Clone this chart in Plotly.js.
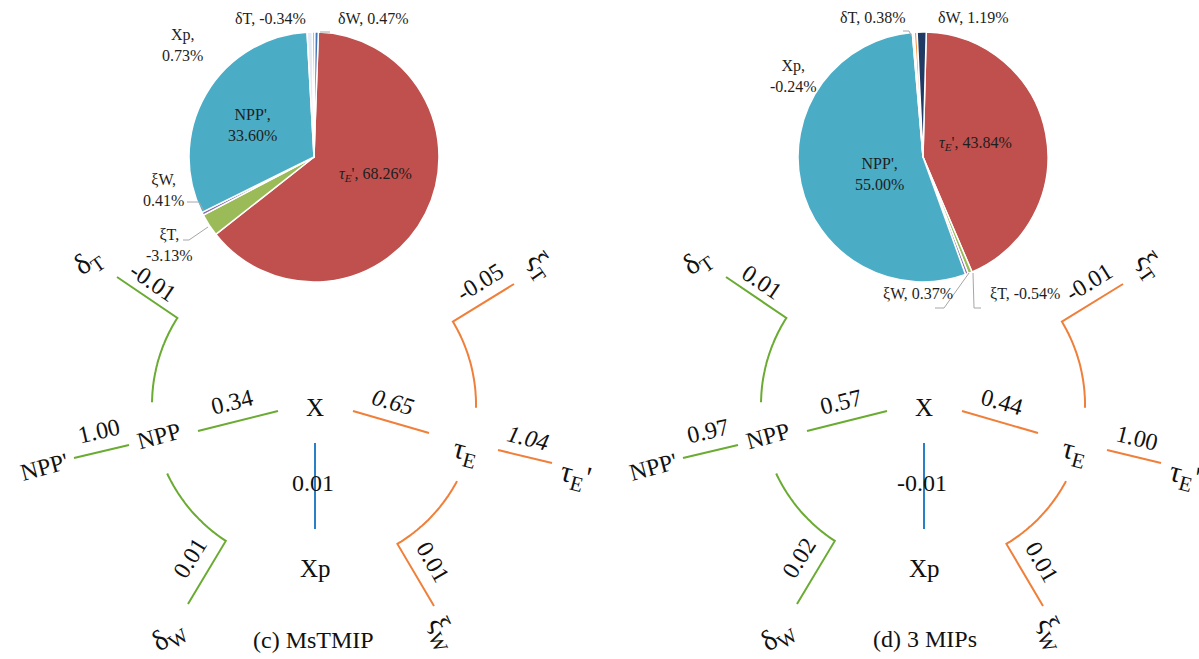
<!DOCTYPE html>
<html>
<head>
<meta charset="utf-8">
<script src="https://cdn.plot.ly/plotly-3.0.1.min.js"></script>
<style>
  html, body { margin: 0; padding: 0; background: #ffffff; }
  #chart { width: 1199px; height: 659px; }
</style>
</head>
<body>
<div id="chart"></div>
<script>
// ---- contribution of each component to the variance (%) ----
const pieNames = ['τE\'', 'ξT', 'ξW', 'NPP\'', 'Xp', 'δT', 'δW'];
const pieNamesHtml = ['<i>τ<sub>E</sub></i>\'', 'ξT', 'ξW', 'NPP\'', 'Xp', 'δT', 'δW'];
const shareMsTMIP = [68.26, -3.13, 0.41, 33.60, 0.73, -0.34, 0.47];
const share3MIPs = [43.84, -0.54, 0.37, 55.00, -0.24, 0.38, 1.19];

// ---- traceability coefficients along each link of the tree ----
const linkNames = ['NPP\'-NPP', 'NPP-X', 'X-τE', 'τE-τE\'', 'X-Xp', 'NPP-δT', 'NPP-δW', 'τE-ξT', 'τE-ξW'];
const linkMsTMIP = [1.00, 0.34, 0.65, 1.04, 0.01, -0.01, 0.01, -0.05, 0.01];
const link3MIPs = [0.97, 0.57, 0.44, 1.00, -0.01, 0.01, 0.02, -0.01, 0.01];

const panelTitles = ['(c) MsTMIP', '(d) 3 MIPs'];

// ---- styling / layout constants ----
const W = 1199, H = 659;
const SERIF = '"Liberation Serif", "Times New Roman", serif';
const GREEN = '#6aab32', ORANGE = '#f07f3a', BLUE = '#2a7fc9', LEADER = '#a6a6a6';
const panelShift = [0, 609];
const pieGeom = [{cx: 314, cy: 157, r: 125, rot: 2}, {cx: 923, cy: 157, r: 125, rot: 1.5}];
const pieColors = [
  ['#c0504d', '#9bbb59', '#8a73ad', '#4bacc6', '#e4ebf5', '#f79646', '#4274b8'],
  ['#c0504d', '#9bbb59', '#8a73ad', '#4bacc6', '#e4ebf5', '#f79646', '#1f3a64']
];
// label anchor points around each pie, and whether the value wraps to a second line
const pieLabelPos = [
  [[375, 174], [169, 245], [163, 190], [252, 125], [182, 45], [270, 18], [373, 18]],
  [[975, 143], [1025, 293], [918, 293], [879, 174], [793, 76], [872, 17], [973, 17]]
];
const pieLabelWrap = [
  [false, true, true, true, true, false, false],
  [false, false, false, true, true, false, false]
];
const pieLeaders = [
  [[[187, 202], [199, 202], [204, 211]], [[183, 240], [189, 240], [208, 227]], [[320, 32], [330, 32]]],
  [[[935, 308], [944, 308], [969, 273]], [[973, 273], [974, 308], [981, 308]], [[903, 31], [909, 31], [911, 35]]]
];

// tree geometry of panel (c); panel (d) is the same tree shifted right
const hub = {cx: 314, cy: 405, r: 162};
const straightLinks = {
  'NPP\'-NPP': {pts: [[74, 458], [129, 445]], color: GREEN},
  'NPP-X': {pts: [[198, 431], [278, 411]], color: GREEN},
  'X-τE': {pts: [[353, 411], [429, 433]], color: ORANGE},
  'τE-τE\'': {pts: [[498, 450], [552, 463]], color: ORANGE},
  'X-Xp': {pts: [[315, 443], [315, 529]], color: BLUE}
};
const arcLinks = {
  'NPP-δT': {a0: 179, a1: 147.5, end: [117, 277], color: GREEN},
  'NPP-δW': {a0: 205, a1: 237, end: [188, 604], color: GREEN},
  'τE-ξT': {a0: -1, a1: 31, end: [514, 284], color: ORANGE},
  'τE-ξW': {a0: -28, a1: -59, end: [434, 606], color: ORANGE}
};
const linkLabelPos = {
  'NPP\'-NPP': [99, 431, -13], 'NPP-X': [232, 402, -14], 'X-τE': [393, 402, 16],
  'τE-τE\'': [528, 438, 14], 'X-Xp': [313, 483, 0], 'NPP-δT': [153, 282, 34],
  'NPP-δW': [190, 558, -58], 'τE-ξT': [480, 282, -32], 'τE-ξW': [433, 562, 60]
};
const nodes = [
  {t: 'NPP\'', x: 44, y: 467, a: -15, s: 24},
  {t: 'NPP', x: 159, y: 436, a: -15, s: 24},
  {t: 'X', x: 315, y: 407, a: 0, s: 25},
  {t: 'τ<sub>E</sub>', x: 465, y: 452, a: 15, s: 30},
  {t: 'τ<sub>E</sub>\'', x: 575, y: 476, a: 15, s: 30},
  {t: 'Xp', x: 315, y: 568, a: 0, s: 25},
  {t: 'δ<sub>T</sub>', x: 88, y: 262, a: -35, s: 29},
  {t: 'δ<sub>W</sub>', x: 169, y: 636, a: -35, s: 29},
  {t: 'ξ<sub>T</sub>', x: 540, y: 266, a: 55, s: 29},
  {t: 'ξ<sub>W</sub>', x: 442, y: 633, a: 65, s: 29}
];
const titlePos = [[313, 640], [925, 639]];

const fmt = v => v.toFixed(2);

const traces = [];
const shapes = [];
const annotations = [];

function polyPath(pts) {
  return pts.map((p, i) => (i ? 'L' : 'M') + p[0].toFixed(1) + ',' + p[1].toFixed(1)).join(' ');
}

[shareMsTMIP, share3MIPs].forEach((shares, k) => {
  const g = pieGeom[k];
  const dx = panelShift[k];

  // pie: slice size is the magnitude of the contribution
  traces.push({
    type: 'pie',
    labels: pieNames,
    values: shares.map(v => Math.abs(v)),
    sort: false,
    direction: 'clockwise',
    rotation: g.rot,
    textinfo: 'none',
    hoverinfo: 'label+text',
    text: shares.map(v => fmt(v) + '%'),
    marker: {colors: pieColors[k], line: {color: '#ffffff', width: 1.5}},
    domain: {
      x: [(g.cx - g.r) / W, (g.cx + g.r) / W],
      y: [1 - (g.cy + g.r) / H, 1 - (g.cy - g.r) / H]
    },
    showlegend: false
  });

  shares.forEach((v, i) => {
    const p = pieLabelPos[k][i];
    annotations.push({
      x: p[0], y: p[1], xref: 'x', yref: 'y', showarrow: false,
      text: pieNamesHtml[i] + ',' + (pieLabelWrap[k][i] ? '<br>' : ' ') + fmt(v) + '%',
      font: {family: SERIF, size: 16, color: '#1e1e1e'},
      xanchor: 'center', yanchor: 'middle', align: 'center'
    });
  });

  pieLeaders[k].forEach(pts => {
    shapes.push({type: 'path', xref: 'x', yref: 'y', path: polyPath(pts),
      line: {color: LEADER, width: 1}});
  });

  // tree links
  const links = k === 0 ? linkMsTMIP : link3MIPs;
  linkNames.forEach((name, i) => {
    let pts;
    let color;
    if (straightLinks[name]) {
      pts = straightLinks[name].pts.map(p => [p[0] + dx, p[1]]);
      color = straightLinks[name].color;
    } else {
      const a = arcLinks[name];
      pts = [];
      const n = 40;
      for (let j = 0; j <= n; j++) {
        const t = (a.a0 + (a.a1 - a.a0) * j / n) * Math.PI / 180;
        pts.push([hub.cx + dx + hub.r * Math.cos(t), hub.cy - hub.r * Math.sin(t)]);
      }
      pts.push([a.end[0] + dx, a.end[1]]);
      color = a.color;
    }
    shapes.push({type: 'path', xref: 'x', yref: 'y', path: polyPath(pts),
      line: {color: color, width: 2}, layer: 'above'});

    const lp = linkLabelPos[name];
    const italic = k === 0 && (name === 'X-τE' || name === 'τE-τE\'');
    annotations.push({
      x: lp[0] + dx, y: lp[1], xref: 'x', yref: 'y', showarrow: false,
      text: italic ? '<i>' + fmt(links[i]) + '</i>' : fmt(links[i]),
      textangle: lp[2],
      font: {family: SERIF, size: 24, color: '#111111'},
      xanchor: 'center', yanchor: 'middle'
    });
  });

  nodes.forEach(nd => {
    annotations.push({
      x: nd.x + dx, y: nd.y, xref: 'x', yref: 'y', showarrow: false,
      text: nd.t, textangle: nd.a,
      font: {family: SERIF, size: nd.s, color: '#111111'},
      xanchor: 'center', yanchor: 'middle'
    });
  });

  annotations.push({
    x: titlePos[k][0], y: titlePos[k][1], xref: 'x', yref: 'y', showarrow: false,
    text: panelTitles[k],
    font: {family: SERIF, size: 24, color: '#111111'},
    xanchor: 'center', yanchor: 'middle'
  });
});

const layout = {
  width: W, height: H,
  margin: {l: 0, r: 0, t: 0, b: 0},
  paper_bgcolor: '#ffffff', plot_bgcolor: 'rgba(0,0,0,0)',
  xaxis: {range: [0, W], visible: false, fixedrange: true},
  yaxis: {range: [H, 0], visible: false, fixedrange: true},
  shapes: shapes,
  annotations: annotations,
  showlegend: false
};

Plotly.newPlot('chart', traces, layout, {displayModeBar: false, staticPlot: true});
</script>
</body>
</html>
